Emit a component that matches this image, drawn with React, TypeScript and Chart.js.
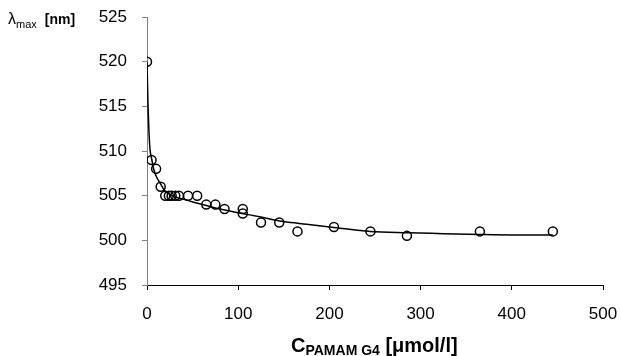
import React, { useEffect, useRef } from "react";
import { Chart, registerables } from "chart.js";

Chart.register(...registerables);

const pointX = [0, 5, 10, 15, 20, 24, 27, 31, 35, 45, 55, 65, 75, 85, 105, 105, 125, 145, 165, 205, 245, 285, 365, 445];
const pointY = [520, 509, 508, 506, 505, 505, 505, 505, 505, 505, 505, 504, 504, 503.5, 503.5, 503, 502, 502, 501, 501.5, 501, 500.5, 501, 501];

const curveX = [0, 1, 2, 3.3, 5, 7, 10, 15, 20, 30, 40, 50, 65, 80, 100, 125, 150, 175, 205, 245, 285, 325, 365, 400, 445];
const curveY = [520, 515.5, 512.5, 510.2, 509.2, 508.1, 507.2, 506.3, 505.5, 504.9, 504.6, 504.3, 503.9, 503.5, 503.1, 502.6, 502.1, 501.8, 501.45, 501.0, 500.85, 500.75, 500.65, 500.6, 500.6];

const yTicks = [495, 500, 505, 510, 515, 520, 525];
const xTicks = [0, 100, 200, 300, 400, 500];

const FONT = "'Liberation Sans', Arial, sans-serif";

const titlePlugin = {
  id: "titles",
  afterDraw(chart: any) {
    const ctx = chart.ctx;
    ctx.save();
    ctx.fillStyle = "#000";
    ctx.textBaseline = "alphabetic";
    ctx.textAlign = "left";
    // Y title: λmax [nm]
    let x = 8;
    ctx.font = `16px ${FONT}`;
    ctx.fillText("λ", x, 24);
    x += ctx.measureText("λ").width;
    ctx.font = `11px ${FONT}`;
    ctx.fillText("max", x, 28);
    x += ctx.measureText("max").width + 8;
    ctx.font = `bold 14px ${FONT}`;
    ctx.fillText("[nm]", x, 24);

    // X title: C_PAMAM G4 [μmol/l]
    const parts = [
      { t: "C", f: `bold 20px ${FONT}`, dy: 0 },
      { t: "PAMAM G4", f: `bold 14px ${FONT}`, dy: 3 },
      { t: " [μmol/l]", f: `bold 20px ${FONT}`, dy: 0 },
    ];
    let sx = 291;
    const base = 352;
    for (const p of parts) {
      ctx.font = p.f;
      ctx.fillText(p.t, sx, base + p.dy);
      sx += ctx.measureText(p.t).width;
    }
    ctx.restore();
  },
};

export default function App() {
  const ref = useRef<HTMLCanvasElement | null>(null);
  useEffect(() => {
    if (!ref.current) return;
    const chart = new Chart(ref.current, {
      type: "scatter",
      data: {
        datasets: [
          {
            label: "fit",
            data: curveX.map((x, i) => ({ x, y: curveY[i] })),
            showLine: true,
            borderColor: "#000",
            borderWidth: 1.5,
            pointRadius: 0,
            cubicInterpolationMode: "monotone",
            fill: false,
          },
          {
            label: "data",
            data: pointX.map((x, i) => ({ x, y: pointY[i] })),
            showLine: false,
            pointRadius: 4.5,
            pointBorderWidth: 1.5,
            pointBorderColor: "#000",
            pointBackgroundColor: "rgba(255,255,255,0)",
          },
        ],
      },
      options: {
        responsive: false,
        animation: false,
        layout: { padding: { left: 0, right: 18, top: 17, bottom: 0 } },
        plugins: { legend: { display: false }, tooltip: { enabled: false } },
        scales: {
          x: {
            type: "linear",
            min: 0,
            max: 500,
            afterBuildTicks: (s: any) => {
              s.ticks = xTicks.map((v) => ({ value: v }));
            },
            afterFit: (s: any) => {
              s.height = 71;
              s.paddingLeft = 0;
              s.paddingRight = 0;
            },
            grid: { drawOnChartArea: false, tickLength: 5, color: "#000" },
            border: { display: true, color: "#000", width: 1 },
            ticks: { color: "#000", font: { family: FONT, size: 17 }, padding: 14, maxRotation: 0 },
          },
          y: {
            type: "linear",
            min: 495,
            max: 525,
            afterBuildTicks: (s: any) => {
              s.ticks = yTicks.map((v) => ({ value: v }));
            },
            afterFit: (s: any) => {
              s.width = 147;
              s.paddingTop = 0;
              s.paddingBottom = 0;
            },
            grid: { drawOnChartArea: false, tickLength: 5, color: "#808080" },
            border: { display: true, color: "#808080", width: 1 },
            ticks: { color: "#000", font: { family: FONT, size: 17 }, padding: 15 },
          },
        },
      },
      plugins: [titlePlugin],
    } as any);
    return () => chart.destroy();
  }, []);
  return (
    <div style={{ position: "fixed", left: 0, top: 0, width: 621, height: 356, background: "#fff" }}>
      <canvas ref={ref} width={621} height={356} style={{ display: "block" }} />
    </div>
  );
}
